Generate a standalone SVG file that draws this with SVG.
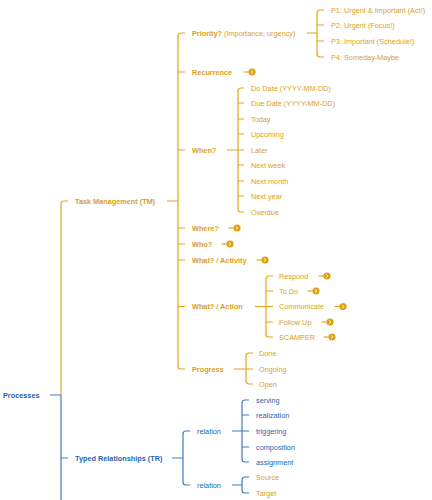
<svg xmlns="http://www.w3.org/2000/svg" xmlns:xlink="http://www.w3.org/1999/xlink" width="432" height="500" viewBox="0 0 432 500">
<style>
text{font-family:"Liberation Sans",Arial,Helvetica,sans-serif;font-size:7.3px}
.o{fill:#D99F1C}
.b{fill:#1F65AD}
.bold{font-weight:bold}
.lo{fill:none;stroke:#E3A41A;stroke-width:1.2}
.lb{fill:none;stroke:#3C7EC2;stroke-width:1.2}
</style>
<defs>
<g id="more">
<path d="M0,0 H5" class="lo"/>
<circle cx="8.5" cy="0" r="3.6" fill="#E0A014"/>
<path d="M7.7,-1.6 L9.3,0 L7.7,1.6" fill="none" stroke="#fff" stroke-width="1"/>
</g>
</defs>
<rect width="432" height="500" fill="#fff"/>
<g id="connectors">
<path class="lo" d="M68,201 H64 Q61,201 61,204 V395"/>
<path class="lb" d="M50,395 H61 M61,395 V500 M61,458 H68"/>
<path class="lo" d="M185,33 H181 Q178,33 178,36 V366 Q178,369 181,369 H185 M178,72 H185 M178,150 H185 M178,228 H185 M178,244 H185 M178,260 H185 M178,306.5 H185 M167,201 H178"/>
<path class="lo" d="M324,10 H320 Q317,10 317,13 V54 Q317,57 320,57 H324 M317,25 H324 M317,41 H324 M307,33 H317"/>
<path class="lo" d="M244,88 H241 Q238,88 238,91 V209 Q238,212 241,212 H244 M238,103 H244 M238,119 H244 M238,134 H244 M238,150 H244 M238,165 H244 M238,181 H244 M238,196 H244 M227,150 H238"/>
<path class="lo" d="M273,276 H269 Q266,276 266,279 V334 Q266,337 269,337 H273 M266,291 H273 M266,306.5 H273 M266,322 H273 M255,306.5 H266"/>
<path class="lo" d="M253,353 H249 Q246,353 246,356 V381 Q246,384 249,384 H253 M246,369 H253 M234,369 H246"/>
<path class="lb" d="M190,431 H186 Q183,431 183,434 V482 Q183,485 186,485 H190 M172,458 H183"/>
<path class="lb" d="M249,400 H245 Q242,400 242,403 V459 Q242,462 245,462 H249 M242,415 H249 M242,431 H249 M242,447 H249 M232,431 H242"/>
<path class="lb" d="M249,477 H245 Q242,477 242,480 V490 Q242,493 245,493 H249 M232,485 H242"/>
<use xlink:href="#more" x="243.5" y="72"/>
<use xlink:href="#more" x="228.5" y="228"/>
<use xlink:href="#more" x="221.5" y="244"/>
<use xlink:href="#more" x="256.5" y="260"/>
<use xlink:href="#more" x="318.5" y="276"/>
<use xlink:href="#more" x="307.5" y="291"/>
<use xlink:href="#more" x="334.5" y="306.5"/>
<use xlink:href="#more" x="321.5" y="322"/>
<use xlink:href="#more" x="323.5" y="337"/>
</g>
<g id="processes"><text class="b bold" x="3" y="397.6">Processes</text></g>
<g id="tm"><text class="o bold" x="75" y="203.6">Task Management (TM)</text></g>
<g id="tr"><text class="b bold" x="75" y="460.6">Typed Relationships (TR)</text></g>
<g id="priority"><text class="o" x="192" y="35.6"><tspan class="bold">Priority?</tspan> (Importance, urgency)</text></g>
<g id="p1"><text class="o" x="331" y="12.6">P1: Urgent &amp; Important (Act!)</text></g>
<g id="p2"><text class="o" x="331" y="27.6">P2: Urgent (Focus!)</text></g>
<g id="p3"><text class="o" x="331" y="43.6">P3: Important (Schedule!)</text></g>
<g id="p4"><text class="o" x="331" y="59.6">P4: Someday-Maybe</text></g>
<g id="recurrence"><text class="o bold" x="192" y="74.6">Recurrence</text></g>
<g id="when"><text class="o bold" x="192" y="152.6">When?</text></g>
<g id="dodate"><text class="o" x="251" y="90.6">Do Date (YYYY-MM-DD)</text></g>
<g id="duedate"><text class="o" x="251" y="105.6">Due Date (YYYY-MM-DD)</text></g>
<g id="today"><text class="o" x="251" y="121.6">Today</text></g>
<g id="upcoming"><text class="o" x="251" y="136.6">Upcoming</text></g>
<g id="later"><text class="o" x="251" y="152.6">Later</text></g>
<g id="nextweek"><text class="o" x="251" y="167.6">Next week</text></g>
<g id="nextmonth"><text class="o" x="251" y="183.6">Next month</text></g>
<g id="nextyear"><text class="o" x="251" y="198.6">Next year</text></g>
<g id="overdue"><text class="o" x="251" y="214.6">Overdue</text></g>
<g id="where"><text class="o bold" x="192" y="230.6">Where?</text></g>
<g id="who"><text class="o bold" x="192" y="246.6">Who?</text></g>
<g id="activity"><text class="o bold" x="192" y="262.6">What? / Activity</text></g>
<g id="action"><text class="o bold" x="192" y="309.1">What? / Action</text></g>
<g id="respond"><text class="o" x="279" y="278.6">Respond</text></g>
<g id="todo"><text class="o" x="279" y="293.6">To Do</text></g>
<g id="communicate"><text class="o" x="279" y="309.1">Communicate</text></g>
<g id="followup"><text class="o" x="279" y="324.6">Follow Up</text></g>
<g id="scamper"><text class="o" x="279" y="339.6">SCAMPER</text></g>
<g id="progress"><text class="o bold" x="192" y="371.6">Progress</text></g>
<g id="done"><text class="o" x="259" y="355.6">Done</text></g>
<g id="ongoing"><text class="o" x="259" y="371.6">Ongoing</text></g>
<g id="open"><text class="o" x="259" y="386.6">Open</text></g>
<g id="relation1"><text class="b" x="197" y="433.6">relation</text></g>
<g id="serving"><text class="b" x="256" y="402.6">serving</text></g>
<g id="realization"><text class="b" x="256" y="417.6">realization</text></g>
<g id="triggering"><text class="b" x="256" y="433.6">triggering</text></g>
<g id="composition"><text class="b" x="256" y="449.6">composition</text></g>
<g id="assignment"><text class="b" x="256" y="464.6">assignment</text></g>
<g id="relation2"><text class="b" x="197" y="487.6">relation</text></g>
<g id="source"><text class="o" x="256" y="479.6">Source</text></g>
<g id="target"><text class="o" x="256" y="495.6">Target</text></g>
</svg>
